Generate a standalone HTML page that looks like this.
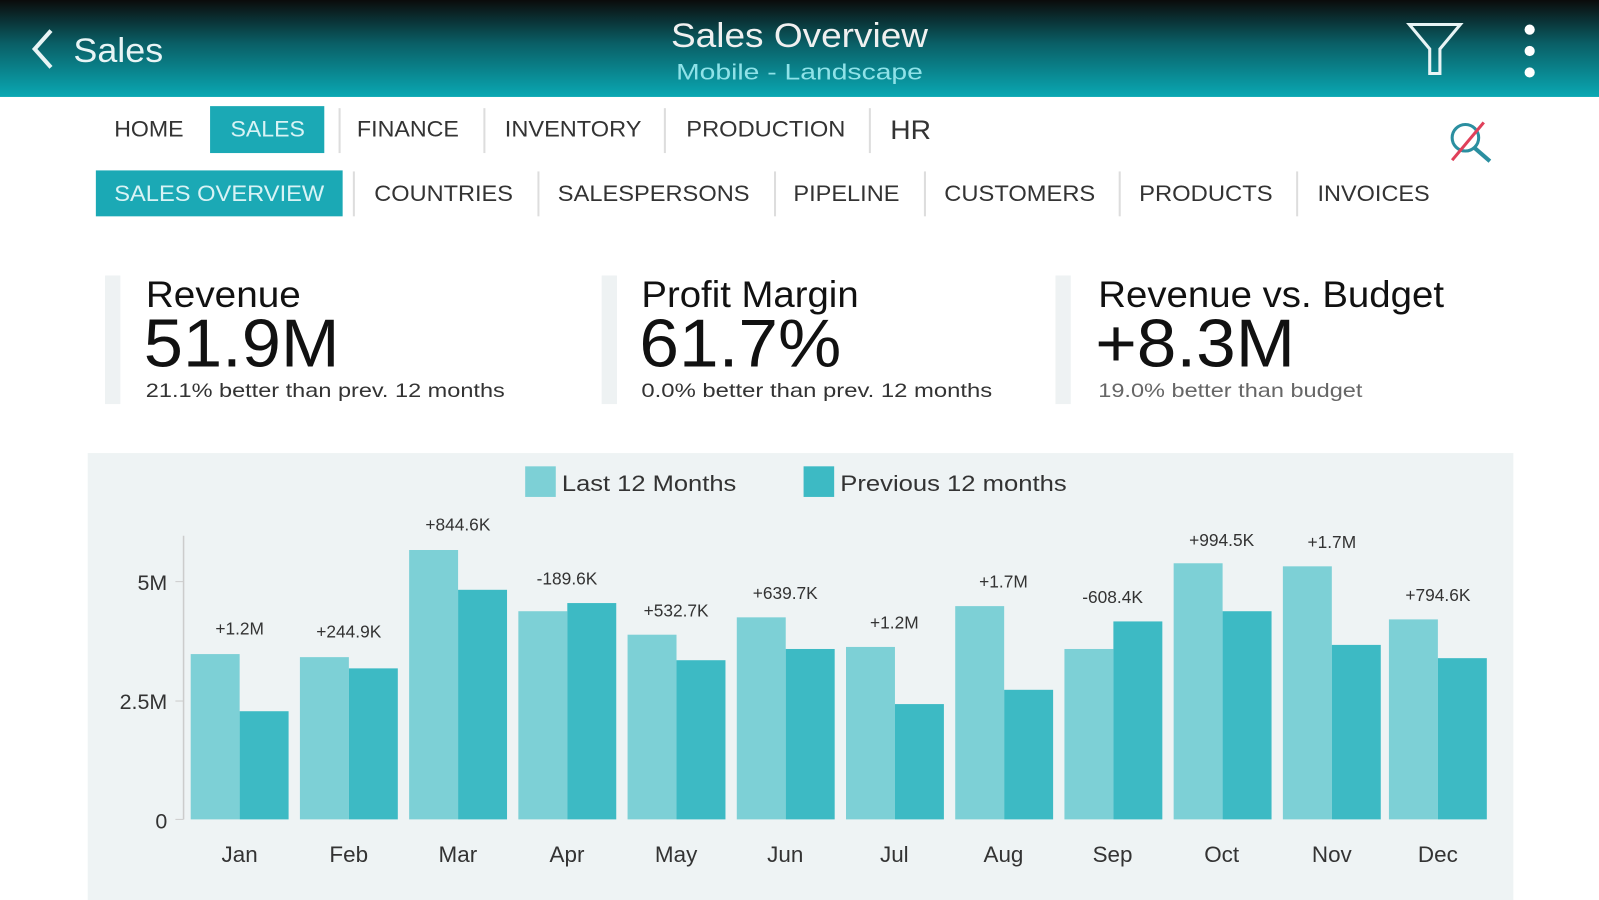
<!DOCTYPE html>
<html><head><meta charset="utf-8"><style>html,body{margin:0;padding:0;background:#fff}svg{display:block}text{font-family:"Liberation Sans",sans-serif}</style></head><body>
<svg width="1599" height="900" viewBox="0 0 1568 882" preserveAspectRatio="none" xmlns="http://www.w3.org/2000/svg">
<defs><linearGradient id="hg" x1="0" y1="0" x2="0" y2="1"><stop offset="0" stop-color="#0b0b0b"/><stop offset="0.45" stop-color="#0a5f66"/><stop offset="1" stop-color="#0aa8b3"/></linearGradient></defs>
<rect width="1568" height="95" fill="url(#hg)"/>
<polyline points="50,30 34,48 50,66" fill="none" stroke="#e8f4f5" stroke-width="4"/>
<text x="72" y="61" font-size="34" fill="#e8f4f5" textLength="88" lengthAdjust="spacingAndGlyphs">Sales</text>
<text x="658" y="46" font-size="34" fill="#f0f0f0" textLength="252" lengthAdjust="spacingAndGlyphs">Sales Overview</text>
<text x="663" y="78" font-size="22" fill="#8fe2e8" textLength="242" lengthAdjust="spacingAndGlyphs">Mobile - Landscape</text>
<path d="M1382,24 L1432,24 L1412,48 L1412,72 L1402,72 L1402,48 Z" fill="none" stroke="#e8f4f5" stroke-width="3"/>
<circle cx="1500" cy="29" r="5" fill="#fff"/><circle cx="1500" cy="50" r="5" fill="#fff"/><circle cx="1500" cy="71" r="5" fill="#fff"/>
<g font-size="22" fill="#333">
<text x="112" y="134" textLength="68" lengthAdjust="spacingAndGlyphs">HOME</text>
<rect x="206" y="104" width="112" height="46" fill="#1ba9b5"/>
<text x="226" y="134" fill="#d8f3f5" textLength="73" lengthAdjust="spacingAndGlyphs">SALES</text>
<text x="350" y="134" textLength="100" lengthAdjust="spacingAndGlyphs">FINANCE</text>
<text x="495" y="134" textLength="134" lengthAdjust="spacingAndGlyphs">INVENTORY</text>
<text x="673" y="134" textLength="156" lengthAdjust="spacingAndGlyphs">PRODUCTION</text>
<text x="873" y="136" font-size="26" textLength="40" lengthAdjust="spacingAndGlyphs">HR</text>
<rect x="94" y="167" width="242" height="45" fill="#1ba9b5"/>
<text x="112" y="197" fill="#d8f3f5" textLength="206" lengthAdjust="spacingAndGlyphs">SALES OVERVIEW</text>
<text x="367" y="197" textLength="136" lengthAdjust="spacingAndGlyphs">COUNTRIES</text>
<text x="547" y="197" textLength="188" lengthAdjust="spacingAndGlyphs">SALESPERSONS</text>
<text x="778" y="197" textLength="104" lengthAdjust="spacingAndGlyphs">PIPELINE</text>
<text x="926" y="197" textLength="148" lengthAdjust="spacingAndGlyphs">CUSTOMERS</text>
<text x="1117" y="197" textLength="131" lengthAdjust="spacingAndGlyphs">PRODUCTS</text>
<text x="1292" y="197" textLength="110" lengthAdjust="spacingAndGlyphs">INVOICES</text>
</g>
<g stroke="#ddd" stroke-width="2">
<line x1="333" y1="106" x2="333" y2="150"/><line x1="475" y1="106" x2="475" y2="150"/><line x1="652" y1="106" x2="652" y2="150"/><line x1="853" y1="106" x2="853" y2="150"/>
<line x1="347" y1="168" x2="347" y2="212"/><line x1="528" y1="168" x2="528" y2="212"/><line x1="760" y1="168" x2="760" y2="212"/><line x1="907" y1="168" x2="907" y2="212"/><line x1="1098" y1="168" x2="1098" y2="212"/><line x1="1272" y1="168" x2="1272" y2="212"/>
</g>
<circle cx="1437" cy="135" r="13" fill="none" stroke="#2b8fa0" stroke-width="3"/><line x1="1446" y1="145" x2="1461" y2="158" stroke="#2b8fa0" stroke-width="4"/><line x1="1424" y1="157" x2="1455" y2="120" stroke="#e0405a" stroke-width="3"/>
<rect x="103" y="270" width="15" height="126" fill="#eef2f3"/>
<rect x="590" y="270" width="15" height="126" fill="#eef2f3"/>
<rect x="1035" y="270" width="15" height="126" fill="#eef2f3"/>
<g fill="#111">
<text x="143" y="301" font-size="36" textLength="152" lengthAdjust="spacingAndGlyphs">Revenue</text>
<text x="141" y="359" font-size="66" textLength="192" lengthAdjust="spacingAndGlyphs">51.9M</text>
<text x="143" y="389" font-size="19" fill="#333" textLength="352" lengthAdjust="spacingAndGlyphs">21.1% better than prev. 12 months</text>
<text x="629" y="301" font-size="36" textLength="213" lengthAdjust="spacingAndGlyphs">Profit Margin</text>
<text x="627" y="359" font-size="66" textLength="198" lengthAdjust="spacingAndGlyphs">61.7%</text>
<text x="629" y="389" font-size="19" fill="#333" textLength="344" lengthAdjust="spacingAndGlyphs">0.0% better than prev. 12 months</text>
<text x="1077" y="301" font-size="36" textLength="339" lengthAdjust="spacingAndGlyphs">Revenue vs. Budget</text>
<text x="1074" y="359" font-size="66" textLength="196" lengthAdjust="spacingAndGlyphs">+8.3M</text>
<text x="1077" y="389" font-size="19" fill="#666" textLength="259" lengthAdjust="spacingAndGlyphs">19.0% better than budget</text>
</g>
<rect x="86" y="444" width="1398" height="438" fill="#eef3f4"/>
<rect x="515" y="457" width="30" height="30" fill="#7dd0d6"/>
<text x="551" y="481" font-size="22" fill="#333" textLength="171" lengthAdjust="spacingAndGlyphs">Last 12 Months</text>
<rect x="788" y="457" width="30" height="30" fill="#3dbac4"/>
<text x="824" y="481" font-size="22" fill="#333" textLength="222" lengthAdjust="spacingAndGlyphs">Previous 12 months</text>
<line x1="180" y1="525" x2="180" y2="803" stroke="#ccc" stroke-width="1.5"/>
<line x1="172" y1="570" x2="180" y2="570" stroke="#ccc"/><line x1="172" y1="687" x2="180" y2="687" stroke="#ccc"/><line x1="172" y1="803" x2="180" y2="803" stroke="#ccc"/>
<g font-size="21" fill="#333" text-anchor="end">
<text x="164" y="578">5M</text><text x="164" y="695">2.5M</text><text x="164" y="812">0</text>
</g>
<g fill="#7dd0d6">
<rect x="187" y="641" width="48" height="162"/><rect x="294.1" y="644" width="48" height="159"/><rect x="401.2" y="539" width="48" height="264"/><rect x="508.3" y="599" width="48" height="204"/><rect x="615.4" y="622" width="48" height="181"/><rect x="722.5" y="605" width="48" height="198"/><rect x="829.6" y="634" width="48" height="169"/><rect x="936.7" y="594" width="48" height="209"/><rect x="1043.8" y="636" width="48" height="167"/><rect x="1150.9" y="552" width="48" height="251"/><rect x="1258" y="555" width="48" height="248"/><rect x="1362" y="607" width="48" height="196"/>
</g>
<g fill="#3dbac4">
<rect x="235" y="697" width="48" height="106"/><rect x="342.1" y="655" width="48" height="148"/><rect x="449.2" y="578" width="48" height="225"/><rect x="556.3" y="591" width="48" height="212"/><rect x="663.4" y="647" width="48" height="156"/><rect x="770.5" y="636" width="48" height="167"/><rect x="877.6" y="690" width="48" height="113"/><rect x="984.7" y="676" width="48" height="127"/><rect x="1091.8" y="609" width="48" height="194"/><rect x="1198.9" y="599" width="48" height="204"/><rect x="1306" y="632" width="48" height="171"/><rect x="1410" y="645" width="48" height="158"/>
</g>
<g font-size="17" fill="#333" text-anchor="middle">
<text x="235" y="622">+1.2M</text><text x="342" y="625">+244.9K</text><text x="449" y="520">+844.6K</text><text x="556" y="573">-189.6K</text><text x="663" y="604">+532.7K</text><text x="770" y="587">+639.7K</text><text x="877" y="616">+1.2M</text><text x="984" y="576">+1.7M</text><text x="1091" y="591">-608.4K</text><text x="1198" y="535">+994.5K</text><text x="1306" y="537">+1.7M</text><text x="1410" y="589">+794.6K</text>
</g>
<g font-size="22" fill="#333" text-anchor="middle">
<text x="235" y="845">Jan</text><text x="342" y="845">Feb</text><text x="449" y="845">Mar</text><text x="556" y="845">Apr</text><text x="663" y="845">May</text><text x="770" y="845">Jun</text><text x="877" y="845">Jul</text><text x="984" y="845">Aug</text><text x="1091" y="845">Sep</text><text x="1198" y="845">Oct</text><text x="1306" y="845">Nov</text><text x="1410" y="845">Dec</text>
</g>
</svg>
</body></html>
